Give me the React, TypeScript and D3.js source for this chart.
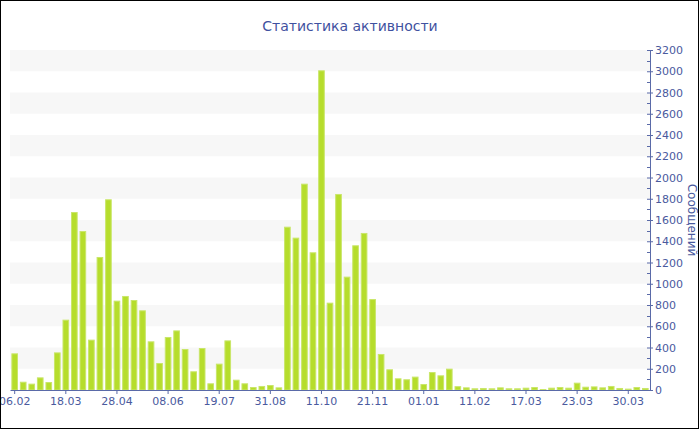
import React, { useEffect, useRef } from 'react';
import * as d3 from 'd3';

const width = 700;
const height = 430;
const margin = { top: 50, right: 50, bottom: 40, left: 10 };

// messages per period
const messages = [
  345, 78, 60, 119, 75, 354, 662, 1675, 1496, 474, 1252, 1795, 841, 885, 847,
  750, 458, 254, 499, 561, 386, 176, 395, 63, 248, 467, 97, 63, 28, 38, 47, 25,
  1537, 1434, 1942, 1296, 3009, 822, 1845, 1067, 1362, 1478, 856, 339, 195, 110,
  101, 126, 56, 169, 138, 201, 36, 25, 16, 19, 16, 25, 16, 16, 22, 28, 9, 22,
  28, 22, 69, 31, 34, 25, 38, 19, 13, 28, 19,
];

// labels shown under every 6th bar
const tickLabels = [
  '06.02', '18.03', '28.04', '08.06', '19.07', '31.08', '11.10',
  '21.11', '01.01', '11.02', '17.03', '23.03', '30.03',
];
const labelStep = 6;

const yMax = 3200;
const yMajor = d3.range(0, yMax + 1, 200);
const yMinor = d3.range(100, yMax, 200);

const title = 'Статистика активности';
const yTitle = 'Сообщений';

const textColor = '#4a5a9e';
const axisColor = '#5a6aa8';
const font = '"DejaVu Sans", Verdana, sans-serif';

export default function App() {
  const ref = useRef<SVGSVGElement>(null);

  useEffect(() => {
    if (!ref.current) return;
    const svg = d3.select(ref.current);
    svg.selectAll('*').remove();

    const plotW = width - margin.left - margin.right;
    const plotH = height - margin.top - margin.bottom;

    const x = d3
      .scaleBand<number>()
      .domain(messages.map((_, i) => i))
      .range([margin.left, margin.left + plotW])
      .paddingInner(0.22)
      .paddingOuter(0.16);

    const y = d3
      .scaleLinear()
      .domain([0, yMax])
      .range([margin.top + plotH, margin.top]);

    svg.append('rect').attr('width', width).attr('height', height).attr('fill', 'white');

    // alternating bands every 200
    svg
      .append('g')
      .selectAll('rect')
      .data(yMajor.slice(0, -1).filter((v) => (v / 200) % 2 === 1))
      .enter()
      .append('rect')
      .attr('x', margin.left)
      .attr('width', plotW)
      .attr('y', (d) => y(d + 200))
      .attr('height', (d) => y(d) - y(d + 200))
      .attr('fill', '#f7f7f7');

    // bars
    svg
      .append('g')
      .selectAll('rect')
      .data(messages)
      .enter()
      .append('rect')
      .attr('x', (_, i) => (x(i) ?? 0) + 0.5)
      .attr('width', x.bandwidth() - 1)
      .attr('y', (d) => y(d) + 0.5)
      .attr('height', (d) => Math.max(0, y(0) - y(d) - 0.5))
      .attr('fill', '#b6dd2c')
      .attr('stroke', '#c9e66a')
      .attr('stroke-width', 1);

    // bottom axis
    const xAxis = svg
      .append('g')
      .attr('transform', `translate(0, ${y(0)})`)
      .call(
        d3
          .axisBottom(x)
          .tickValues(tickLabels.map((_, i) => i * labelStep))
          .tickFormat((d) => tickLabels[(d as number) / labelStep])
          .tickSizeInner(4)
          .tickSizeOuter(0)
          .tickPadding(3)
      );
    xAxis.select('.domain').attr('stroke', axisColor);
    xAxis.selectAll('.tick line').attr('stroke', axisColor);
    xAxis
      .selectAll('.tick text')
      .attr('fill', textColor)
      .style('font-family', font)
      .style('font-size', '11px');

    // right axis
    const yAxis = svg
      .append('g')
      .attr('transform', `translate(${margin.left + plotW}, 0)`)
      .call(
        d3
          .axisRight(y)
          .tickValues(yMajor)
          .tickFormat(d3.format('d'))
          .tickSizeInner(3)
          .tickSizeOuter(0)
          .tickPadding(2)
      );
    yAxis.select('.domain').attr('stroke', axisColor);
    yAxis.selectAll('.tick line').attr('stroke', axisColor).attr('x1', -3);
    yAxis
      .selectAll('.tick text')
      .attr('fill', textColor)
      .style('font-family', font)
      .style('font-size', '11px');
    yAxis
      .append('g')
      .selectAll('line')
      .data(yMinor)
      .enter()
      .append('line')
      .attr('x1', -3)
      .attr('x2', 0)
      .attr('y1', (d) => Math.round(y(d)) + 0.5)
      .attr('y2', (d) => Math.round(y(d)) + 0.5)
      .attr('stroke', axisColor);

    // axis title
    svg
      .append('text')
      .attr('transform', `translate(688, ${margin.top + plotH / 2}) rotate(90)`)
      .attr('text-anchor', 'middle')
      .attr('fill', textColor)
      .style('font-family', font)
      .style('font-size', '12px')
      .text(yTitle);

    // title
    svg
      .append('text')
      .attr('x', width / 2)
      .attr('y', 31)
      .attr('text-anchor', 'middle')
      .attr('fill', '#3f51a0')
      .style('font-family', font)
      .style('font-size', '14px')
      .text(title);

    // frame
    svg
      .append('rect')
      .attr('x', 0.5)
      .attr('y', 0.5)
      .attr('width', width - 2)
      .attr('height', height - 2)
      .attr('fill', 'none')
      .attr('stroke', 'black');
  }, []);

  return (
    <svg
      ref={ref}
      width={width}
      height={height}
      style={{ position: 'absolute', left: 0, top: 0, display: 'block' }}
    />
  );
}
